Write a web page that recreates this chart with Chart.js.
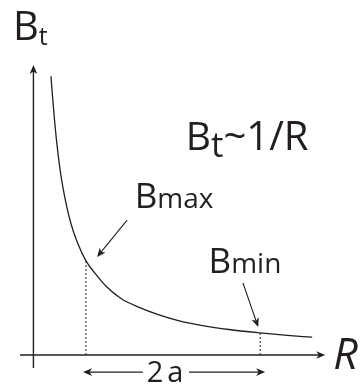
<!DOCTYPE html>
<html>
<head>
<meta charset="utf-8">
<script src="https://cdn.jsdelivr.net/npm/chart.js@4.4.0/dist/chart.umd.min.js"></script>
<style>
  body { margin: 0; background: #fff; }
  canvas { display: block; }
</style>
</head>
<body>
<canvas id="myChart" width="363" height="386"></canvas>
<script>
// toroidal field falling off with major radius, Bt ~ 1/R
const radius = [0.6, 0.65, 0.72, 0.8, 0.9, 1.0, 1.15, 1.3, 1.5, 1.8, 2.1, 2.5, 3.0, 3.6, 4.3, 5.0, 5.8, 6.7, 7.77, 8.6, 9.55];
const field = [1.63, 1.52, 1.38, 1.24, 1.10, 0.99, 0.86, 0.76, 0.66, 0.55, 0.48, 0.40, 0.33, 0.28, 0.235, 0.20, 0.172, 0.149, 0.129, 0.116, 0.104];

// inner / outer edge of the plasma (dotted drop lines)
const edgeR = [1.8, 7.77];
const edgeB = [0.55, 0.129];

const ink = '#231f20';
const font = '"Open Sans", "Noto Sans", sans-serif';

function arrow(ctx, x1, y1, x2, y2) {
  const a = Math.atan2(y2 - y1, x2 - x1);
  const len = 9, half = 3.8;
  ctx.beginPath();
  ctx.moveTo(x1, y1);
  ctx.lineTo(x2 - Math.cos(a) * 4, y2 - Math.sin(a) * 4);
  ctx.stroke();
  ctx.save();
  ctx.translate(x2, y2);
  ctx.rotate(a);
  ctx.beginPath();
  ctx.moveTo(0, 0);
  ctx.lineTo(-len, -half);
  ctx.lineTo(-len + 2.5, 0);
  ctx.lineTo(-len, half);
  ctx.closePath();
  ctx.fill();
  ctx.restore();
}

// draws pieces of text one after another, e.g. B + subscript t
function label(ctx, x, y, parts) {
  let cx = x;
  parts.forEach(p => {
    ctx.font = (p.italic ? 'italic ' : '') + p.size + 'px ' + font;
    ctx.fillText(p.text, cx, y + (p.dy || 0));
    cx += ctx.measureText(p.text).width + (p.gap || 0);
  });
}

const sketch = {
  id: 'sketch',
  afterDatasetsDraw(chart) {
    const ctx = chart.ctx;
    const xs = chart.scales.x, ys = chart.scales.y;
    const px = v => xs.getPixelForValue(v);
    const py = v => ys.getPixelForValue(v);

    ctx.save();
    ctx.strokeStyle = ink;
    ctx.fillStyle = ink;
    ctx.lineWidth = 1.4;

    // axes
    arrow(ctx, px(-0.46), py(0), px(10.0), py(0));
    arrow(ctx, px(0), py(-0.076), px(0), py(1.696));

    // pointers
    ctx.lineWidth = 1.1;
    arrow(ctx, px(3.21), py(0.789), px(2.18), py(0.573));
    arrow(ctx, px(7.18), py(0.421), px(7.70), py(0.164));
    arrow(ctx, px(3.75), py(-0.1), px(1.70), py(-0.1));
    arrow(ctx, px(5.33), py(-0.1), px(7.94), py(-0.1));

    ctx.textBaseline = 'alphabetic';
    ctx.textAlign = 'left';
    label(ctx, px(-0.70), py(1.842), [{text: 'B', size: 40}, {text: 't', size: 25, dy: 5}]);
    label(ctx, px(5.22), py(1.199), [{text: 'B', size: 39}, {text: 't', size: 35, dy: 7}, {text: '~1/R', size: 40}]);
    label(ctx, px(3.47), py(0.86), [{text: 'B', size: 35}, {text: 'max', size: 28}]);
    label(ctx, px(6.00), py(0.48), [{text: 'B', size: 35}, {text: 'min', size: 28}]);
    label(ctx, px(10.27), py(-0.082), [{text: 'R', size: 43, italic: true}]);
    label(ctx, px(3.88), py(-0.158), [{text: '2', size: 29, gap: 4}, {text: 'a', size: 29}]);
    ctx.restore();
  }
};

const drops = edgeR.map((r, i) => ({
  data: [{x: r, y: 0}, {x: r, y: edgeB[i]}],
  borderColor: ink,
  borderWidth: 1,
  borderDash: [2, 2],
  pointRadius: 0,
  clip: false
}));

new Chart(document.getElementById('myChart'), {
  type: 'line',
  data: {
    datasets: [{
      data: radius.map((r, i) => ({x: r, y: field[i]})),
      borderColor: ink,
      borderWidth: 1.3,
      pointRadius: 0,
      cubicInterpolationMode: 'monotone',
      clip: false
    }, ...drops]
  },
  options: {
    responsive: false,
    animation: false,
    devicePixelRatio: 1,
    layout: { padding: { left: 13, right: 10, top: 54, bottom: 10.5 } },
    scales: {
      x: { type: 'linear', min: -0.7, max: 10.95, display: false },
      y: { type: 'linear', min: -0.12, max: 1.76, display: false }
    },
    plugins: { legend: { display: false }, tooltip: { enabled: false } }
  },
  plugins: [sketch]
});
</script>
</body>
</html>
